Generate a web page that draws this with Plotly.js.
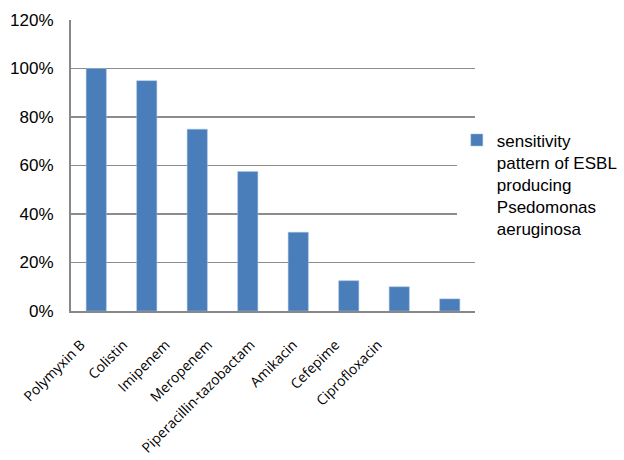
<!DOCTYPE html>
<html><head><meta charset="utf-8">
<script src="https://cdn.plot.ly/plotly-3.0.1.min.js"></script>
<style>body{margin:0;padding:0;background:#fff}#chart{width:624px;height:460px}</style>
</head><body><div id="chart"></div>
<script>
const categories = ["Polymyxin B","Colistin","Imipenem","Meropenem","Piperacillin-tazobactam","Amikacin","Cefepime","Ciprofloxacin"];
const sensitivity = [100, 95, 75, 57.5, 32.5, 12.5, 10, 5];
const seriesName = "sensitivity<br>pattern of ESBL<br>producing<br>Psedomonas<br>aeruginosa";
const yTicks = [0, 20, 40, 60, 80, 100, 120];
const yTickText = yTicks.map(v => v + '%');
const labelIdx = categories.map((c, i) => i);

Plotly.newPlot('chart', [{
  type: 'bar', x: categories, y: sensitivity, name: seriesName,
  marker: {color: '#4a7ebb', line: {color: '#a6c0e3', width: 0.5}},
  showlegend: true
}, {
  // carrier for the category label axis (draws nothing)
  type: 'scatter', mode: 'markers', x: labelIdx, y: labelIdx.map(() => null),
  xaxis: 'x2', yaxis: 'y', showlegend: false, hoverinfo: 'skip',
  marker: {opacity: 0}
}], {
  width: 624, height: 460,
  margin: {l: 71, r: 149, t: 20, b: 149, autoexpand: false},
  paper_bgcolor: '#fff', plot_bgcolor: '#fff',
  bargap: 0.6,
  showlegend: true,
  legend: {x: 0.955, y: 0.435, xanchor: 'left', yanchor: 'middle', valign: 'top',
    font: {family: 'Liberation Sans, Arial', size: 17, color: '#000'},
    itemwidth: 30, tracegroupgap: 0},
  xaxis: {type: 'category', showgrid: false, showline: true, linecolor: '#888', linewidth: 2,
    showticklabels: false, ticks: ''},
  xaxis2: {overlaying: 'x', anchor: 'y', side: 'bottom', type: 'linear', range: [-0.236, 9.292],
    autorange: false, tickmode: 'array', tickvals: labelIdx, ticktext: categories,
    showgrid: false, zeroline: false, showline: false, ticks: '', ticklabelstandoff: 22,
    tickangle: -45, tickfont: {family: 'Open Sans', size: 14, color: '#000'}},
  yaxis: {range: [0, 120], tickmode: 'array', tickvals: yTicks, ticktext: yTickText, showgrid: true,
    gridcolor: '#8c8c8c', gridwidth: 1.5, showline: true, linecolor: '#888', linewidth: 2,
    zeroline: false, ticks: '', ticklabelstandoff: 12,
    tickfont: {family: 'Liberation Sans, Arial', size: 17, color: '#000'}}
}, {displayModeBar: false, staticPlot: true});
</script></body></html>
